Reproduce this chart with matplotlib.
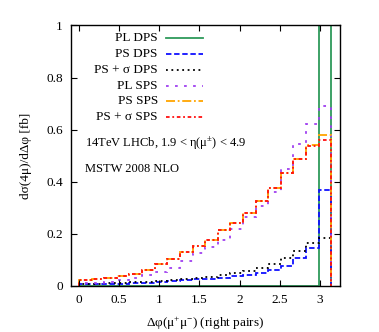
import matplotlib.pyplot as plt
import numpy as np
from matplotlib.lines import Line2D

plt.rcParams['font.family'] = ['Liberation Serif', 'DejaVu Serif']
plt.rcParams['mathtext.fontset'] = 'custom'
plt.rcParams['mathtext.rm'] = 'Liberation Serif'

# 20 bins in delta phi from 0 to pi
edges = np.linspace(0, np.pi, 21)

pl_dps = [0]*19 + [5.0]
ps_dps = [0.005, 0.006, 0.007, 0.008, 0.010, 0.012, 0.014, 0.017, 0.020, 0.024,
          0.027, 0.031, 0.036, 0.041, 0.048, 0.060, 0.076, 0.105, 0.144, 0.368]
pss_dps = [0.007, 0.008, 0.010, 0.011, 0.013, 0.015, 0.018, 0.021, 0.025, 0.029,
           0.033, 0.040, 0.048, 0.058, 0.069, 0.083, 0.108, 0.135, 0.163, 0.185]
pl_sps = [0.010, 0.012, 0.016, 0.022, 0.030, 0.040, 0.052, 0.067, 0.095, 0.125,
          0.150, 0.176, 0.217, 0.263, 0.305, 0.360, 0.447, 0.543, 0.621, 0.690]
ps_sps = [0.020, 0.025, 0.030, 0.037, 0.045, 0.062, 0.082, 0.101, 0.128, 0.153,
          0.176, 0.214, 0.240, 0.278, 0.327, 0.374, 0.432, 0.487, 0.541, 0.579]
pss_sps = [0.020, 0.025, 0.030, 0.037, 0.045, 0.062, 0.082, 0.101, 0.128, 0.153,
           0.176, 0.214, 0.240, 0.278, 0.327, 0.374, 0.432, 0.487, 0.538, 0.560]

labels = ['PL DPS', 'PS DPS', 'PS + σ DPS', 'PL SPS', 'PS SPS', 'PS + σ SPS']
series = [pl_dps, ps_dps, pss_dps, pl_sps, ps_sps, pss_sps]
colors = ['#2e9a5a', '#1010ff', '#000000', '#a040f0', '#ffa500', '#ff1010']
styles = ['-', (0, (3, 1.5)), (0, (1, 2)), (0, (1.5, 3.5)), (0, (5, 1.5, 1, 1.5)), (0, (2, 1.5, 1, 1.5))]

fig = plt.figure(figsize=(3.79, 3.32), dpi=100)
ax = fig.add_axes([0.1873, 0.1395, 0.7097, 0.7837])

for s, c, ls in zip(series, colors, styles):
    ax.stairs(s, edges, color=c, linestyle=ls, lw=1.3)

ax.set_xlim(-0.1, 3.25)
ax.set_ylim(0, 1)
ax.set_xticks(np.arange(0, 3.01, 0.5))
ax.set_xticklabels(['0', '0.5', '1', '1.5', '2', '2.5', '3'])
ax.set_yticks(np.arange(0, 1.01, 0.2))
ax.set_yticklabels(['0', '0.2', '0.4', '0.6', '0.8', '1'])
ax.tick_params(direction='in', top=True, right=True, length=4, labelsize=9.5, pad=6)
for sp in ax.spines.values():
    sp.set_linewidth(1.0)

ax.set_xlabel('Δφ(μ$^{+}$μ$^{-}$) (right pairs)', fontsize=9.5, labelpad=6)
ax.set_ylabel('dσ(4μ)/dΔφ [fb]', fontsize=9.5, labelpad=10)

# gnuplot-style key: text right aligned, sample on the right
y0, dy = 0.951, 0.0607
for i, (lab, c, ls) in enumerate(zip(labels, colors, styles)):
    y = y0 - i*dy
    ax.text(0.323, y, lab, transform=ax.transAxes, ha='right', va='center', fontsize=9.5)
    ax.add_line(Line2D([0.353, 0.491], [y, y], transform=ax.transAxes, color=c, linestyle=ls, lw=1.3))

ax.text(0.052, 0.545, '14TeV LHCb, 1.9 < η(μ$^{\\pm}$) < 4.9', transform=ax.transAxes,
        ha='left', va='center', fontsize=9)
ax.text(0.052, 0.448, 'MSTW 2008 NLO', transform=ax.transAxes, ha='left', va='center', fontsize=9)

fig.savefig('out.png', dpi=100)
